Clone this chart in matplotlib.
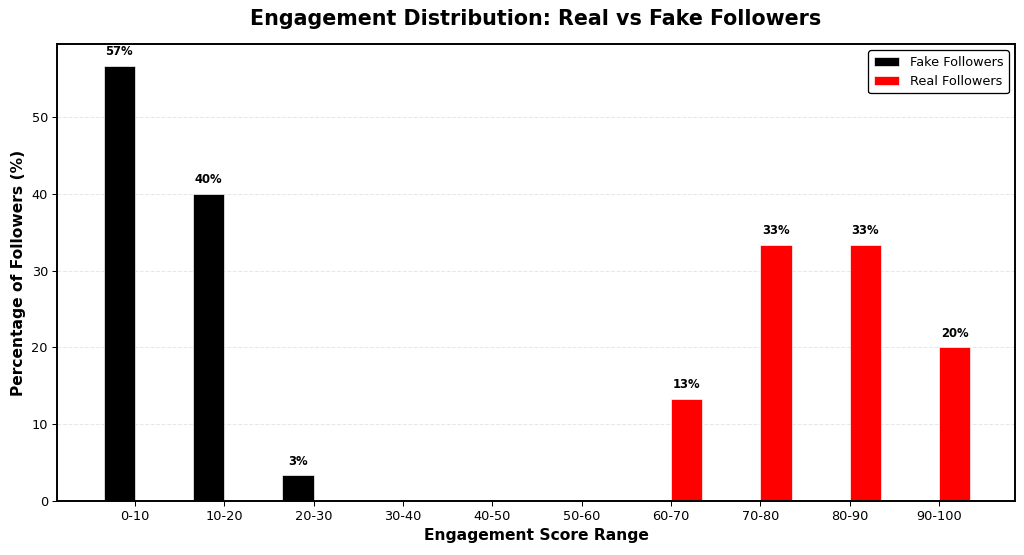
import numpy as np
import matplotlib
matplotlib.use("Agg")
import matplotlib.pyplot as plt

ranges = ['0-10', '10-20', '20-30', '30-40', '40-50', '50-60', '60-70', '70-80', '80-90', '90-100']
fake_pct = [56.67, 40.0, 3.33, 0, 0, 0, 0, 0, 0, 0]
real_pct = [0, 0, 0, 0, 0, 0, 13.33, 33.33, 33.33, 20.0]

x = np.arange(len(ranges))
width = 0.35

fig, ax = plt.subplots(figsize=(11, 5.962))

bars_fake = ax.bar(x - width / 2, fake_pct, width, color='black', edgecolor='white',
                   linewidth=0.5, label='Fake Followers')
bars_real = ax.bar(x + width / 2, real_pct, width, color='red', edgecolor='white',
                   linewidth=0.5, label='Real Followers')

# percentage labels on non-empty bars
for bars in (bars_fake, bars_real):
    for b in bars:
        h = b.get_height()
        if h > 0:
            ax.text(b.get_x() + b.get_width() / 2, h + 1, f'{h:.0f}%',
                    ha='center', va='bottom', fontsize=9, fontweight='bold')

ax.set_xticks(x)
ax.set_xticklabels(ranges)
ax.set_xlim(-0.87, len(ranges) - 0.15)
ax.set_ylim(0, max(fake_pct + real_pct) * 1.05)
ax.set_xlabel('Engagement Score Range', fontsize=12, fontweight='bold')
ax.set_ylabel('Percentage of Followers (%)', fontsize=12, fontweight='bold')
ax.set_title('Engagement Distribution: Real vs Fake Followers', fontsize=16,
             fontweight='bold', pad=15)
ax.grid(axis='y', linestyle='--', alpha=0.3)
ax.set_axisbelow(True)
for s in ax.spines.values():
    s.set_linewidth(1.5)
leg = ax.legend(loc='upper right', framealpha=1, edgecolor='black')

fig.subplots_adjust(left=0.0557, right=0.9912, top=0.9207, bottom=0.0973)
plt.savefig('out.png', dpi=1024 / 11)
